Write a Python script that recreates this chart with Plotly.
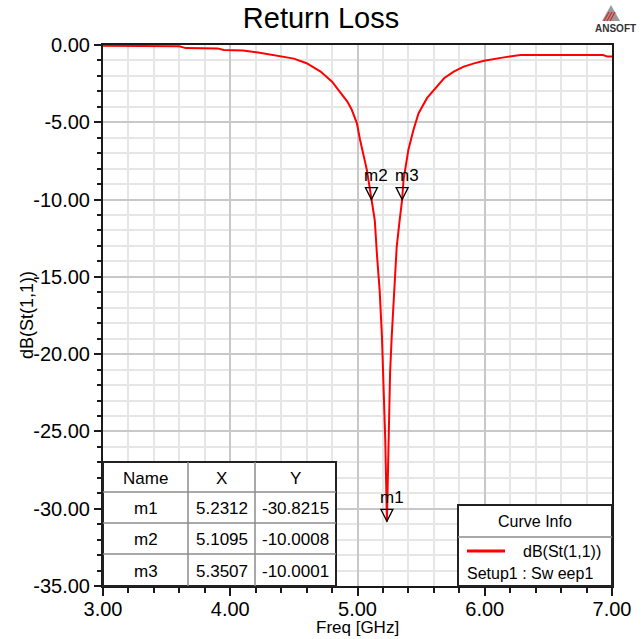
import plotly.graph_objects as go

# ---------------- data ----------------
freq_ghz = [3.00, 3.30, 3.60, 3.65, 3.90, 3.95, 4.10, 4.22, 4.30, 4.39, 4.50, 4.60,
            4.71, 4.80, 4.86, 4.92, 4.955, 4.995, 5.02, 5.047, 5.073, 5.094, 5.1095,
            5.136, 5.154, 5.174, 5.192, 5.205, 5.218, 5.2312, 5.238, 5.246, 5.256,
            5.269, 5.29, 5.308, 5.328, 5.3507, 5.362, 5.40, 5.44, 5.48, 5.546, 5.61,
            5.68, 5.756, 5.835, 5.916, 5.995, 6.15, 6.28, 6.60, 6.93, 6.965, 7.00]
s11_db = [-0.05, -0.06, -0.08, -0.20, -0.22, -0.32, -0.36, -0.49, -0.60, -0.71, -0.88, -1.18,
          -1.72, -2.37, -3.01, -3.66, -4.19, -5.05, -6.13, -7.10, -8.06, -9.14, -10.0008,
          -11.36, -13.70, -15.86, -18.85, -22.28, -25.50, -30.8215, -27.60, -24.40, -21.20,
          -18.85, -15.86, -13.07, -11.57, -10.0001, -8.71, -6.77, -5.48, -4.41, -3.44, -2.80,
          -2.15, -1.72, -1.40, -1.19, -1.02, -0.80, -0.65, -0.65, -0.65, -0.75, -0.75]

marker_names = ["m1", "m2", "m3"]
marker_x = [5.2312, 5.1095, 5.3507]
marker_y = [-30.8215, -10.0008, -10.0001]

x_tickvals = [3, 4, 5, 6, 7]
x_ticktext = ["3.00", "4.00", "5.00", "6.00", "7.00"]
y_tickvals = [0, -5, -10, -15, -20, -25, -30, -35]
y_ticktext = ["0.00", "-5.00", "-10.00", "-15.00", "-20.00", "-25.00", "-30.00", "-35.00"]

trace_name = "dB(St(1,1))"
sweep_name = "Setup1 : Sw eep1"
table_header = ["Name", "X", "Y"]
x_title = "Freq [GHz]"
y_title = "dB(St(1,1))"

# ---------------- layout helpers ----------------
W, H = 642, 639
L, R, T, B = 103, 30, 45, 53
PW, PH = W - L - R, H - T - B
FONT = "Liberation Sans, Arial, sans-serif"


def px(x):
    return (x - L) / PW


def py(y):
    return (H - B - y) / PH


fig = go.Figure()
fig.add_trace(go.Scatter(x=freq_ghz, y=s11_db, mode="lines", name=trace_name,
                         line=dict(color="#ff0000", width=2), showlegend=False,
                         hoverinfo="x+y"))

shapes = []
annotations = []


def text(xp, yp, s, size=17, xanchor="center", color="black", angle=0):
    annotations.append(dict(x=px(xp), y=py(yp), xref="paper", yref="paper", text=s,
                            showarrow=False, xanchor=xanchor, yanchor="middle",
                            textangle=angle,
                            font=dict(family=FONT, size=size, color=color)))


# marker triangles (tip at the data point)
for n, mx, my in zip(marker_names, marker_x, marker_y):
    shapes.append(dict(type="path", xref="x", yref="y", xsizemode="pixel", ysizemode="pixel",
                       xanchor=mx, yanchor=my, path="M -6 12 L 6 12 L 0 0 Z",
                       line=dict(color="black", width=1.3), fillcolor="rgba(0,0,0,0)"))
    annotations.append(dict(x=mx, y=my, xref="x", yref="y", text=n, showarrow=False,
                            xanchor="center", yanchor="middle",
                            yshift=24, xshift=5, font=dict(family=FONT, size=17, color="black")))

# marker table
tx = [103, 188, 255, 336]
ty = [462, 492, 523, 554, 586]
shapes.append(dict(type="rect", xref="paper", yref="paper", x0=px(tx[0]), x1=px(tx[-1]),
                   y0=py(ty[-1]), y1=py(ty[0]), fillcolor="white",
                   line=dict(color="#222222", width=2), layer="above"))
for xv in tx[1:-1]:
    shapes.append(dict(type="line", xref="paper", yref="paper", x0=px(xv), x1=px(xv),
                       y0=py(ty[-1]), y1=py(ty[0]), line=dict(color="#8c8c8c", width=1.5)))
for yv in ty[1:-1]:
    shapes.append(dict(type="line", xref="paper", yref="paper", x0=px(tx[0]), x1=px(tx[-1]),
                       y0=py(yv), y1=py(yv), line=dict(color="#8c8c8c", width=1.5)))
rows = [table_header] + [[n, f"{a:.4f}", f"{b:.4f}"] for n, a, b in zip(marker_names, marker_x, marker_y)]
for r, row in enumerate(rows):
    for c, txt in enumerate(row):
        text((tx[c] + tx[c + 1]) / 2, (ty[r] + ty[r + 1]) / 2 + 1, txt)

# curve info box
lx0, lx1, ly0, ly1, lsep = 458, 612, 505, 586, 537
shapes.append(dict(type="rect", xref="paper", yref="paper", x0=px(lx0), x1=px(lx1),
                   y0=py(ly1), y1=py(ly0), fillcolor="white",
                   line=dict(color="#222222", width=2), layer="above"))
shapes.append(dict(type="line", xref="paper", yref="paper", x0=px(lx0), x1=px(lx1),
                   y0=py(lsep), y1=py(lsep), line=dict(color="#8c8c8c", width=1.5)))
shapes.append(dict(type="line", xref="paper", yref="paper", x0=px(467), x1=px(505),
                   y0=py(551), y1=py(551), line=dict(color="#ff0000", width=3)))
text((lx0 + lx1) / 2, 521, "Curve Info", size=16)
text(603, 551, trace_name, size=16, xanchor="right")
text(465, 573, sweep_name, size=16, xanchor="left")

# axis titles
text(357, 627, x_title, size=17)
text(27, 315, y_title, size=18, angle=-90)

# ANSOFT logo
shapes.append(dict(type="path", xref="paper", yref="paper",
                   path=f"M {px(602)} {py(21)} L {px(611)} {py(5)} L {px(620)} {py(21)} Z",
                   fillcolor="#9a9a9a", line=dict(width=0)))
for i in range(3):
    shapes.append(dict(type="line", xref="paper", yref="paper",
                       x0=px(604 + 3 * i), y0=py(21), x1=px(609 + 3 * i), y1=py(12),
                       line=dict(color="#e02020", width=1.2)))
text(615, 28, "<b>ANSOFT</b>", size=10, color="#333333")

axis_common = dict(showline=True, linecolor="#1a1a1a", linewidth=2, mirror=True,
                   ticks="outside", tickcolor="#1a1a1a", tickwidth=2, zeroline=False,
                   showgrid=True, gridcolor="#c8c8c8", gridwidth=2, automargin=False,
                   tickfont=dict(family=FONT, size=20, color="black"))

fig.update_layout(
    width=W, height=H, margin=dict(l=L, r=R, t=T, b=B),
    paper_bgcolor="white", plot_bgcolor="white",
    title=dict(text="Return Loss", x=0.5, xref="container", xanchor="center",
               y=1 - 18 / H, yanchor="middle", font=dict(family=FONT, size=29, color="black")),
    xaxis=dict(range=[3, 7], tickmode="array", tickvals=x_tickvals, ticktext=x_ticktext,
               ticklen=8, ticklabelstandoff=-4,
               minor=dict(tickmode="linear", tick0=3, dtick=0.2, ticks="outside", ticklen=5,
                          tickcolor="#1a1a1a", tickwidth=1.5, showgrid=True,
                          gridcolor="#e6e6e6", gridwidth=2),
               **axis_common),
    yaxis=dict(range=[-35, 0], tickmode="array", tickvals=y_tickvals, ticktext=y_ticktext,
               ticklen=7,
               minor=dict(tickmode="linear", tick0=0, dtick=1, ticks="outside", ticklen=4,
                          tickcolor="#1a1a1a", tickwidth=1.5, showgrid=True,
                          gridcolor="#e6e6e6", gridwidth=2),
               **axis_common),
    shapes=shapes, annotations=annotations,
)

fig.write_html("out.html")
